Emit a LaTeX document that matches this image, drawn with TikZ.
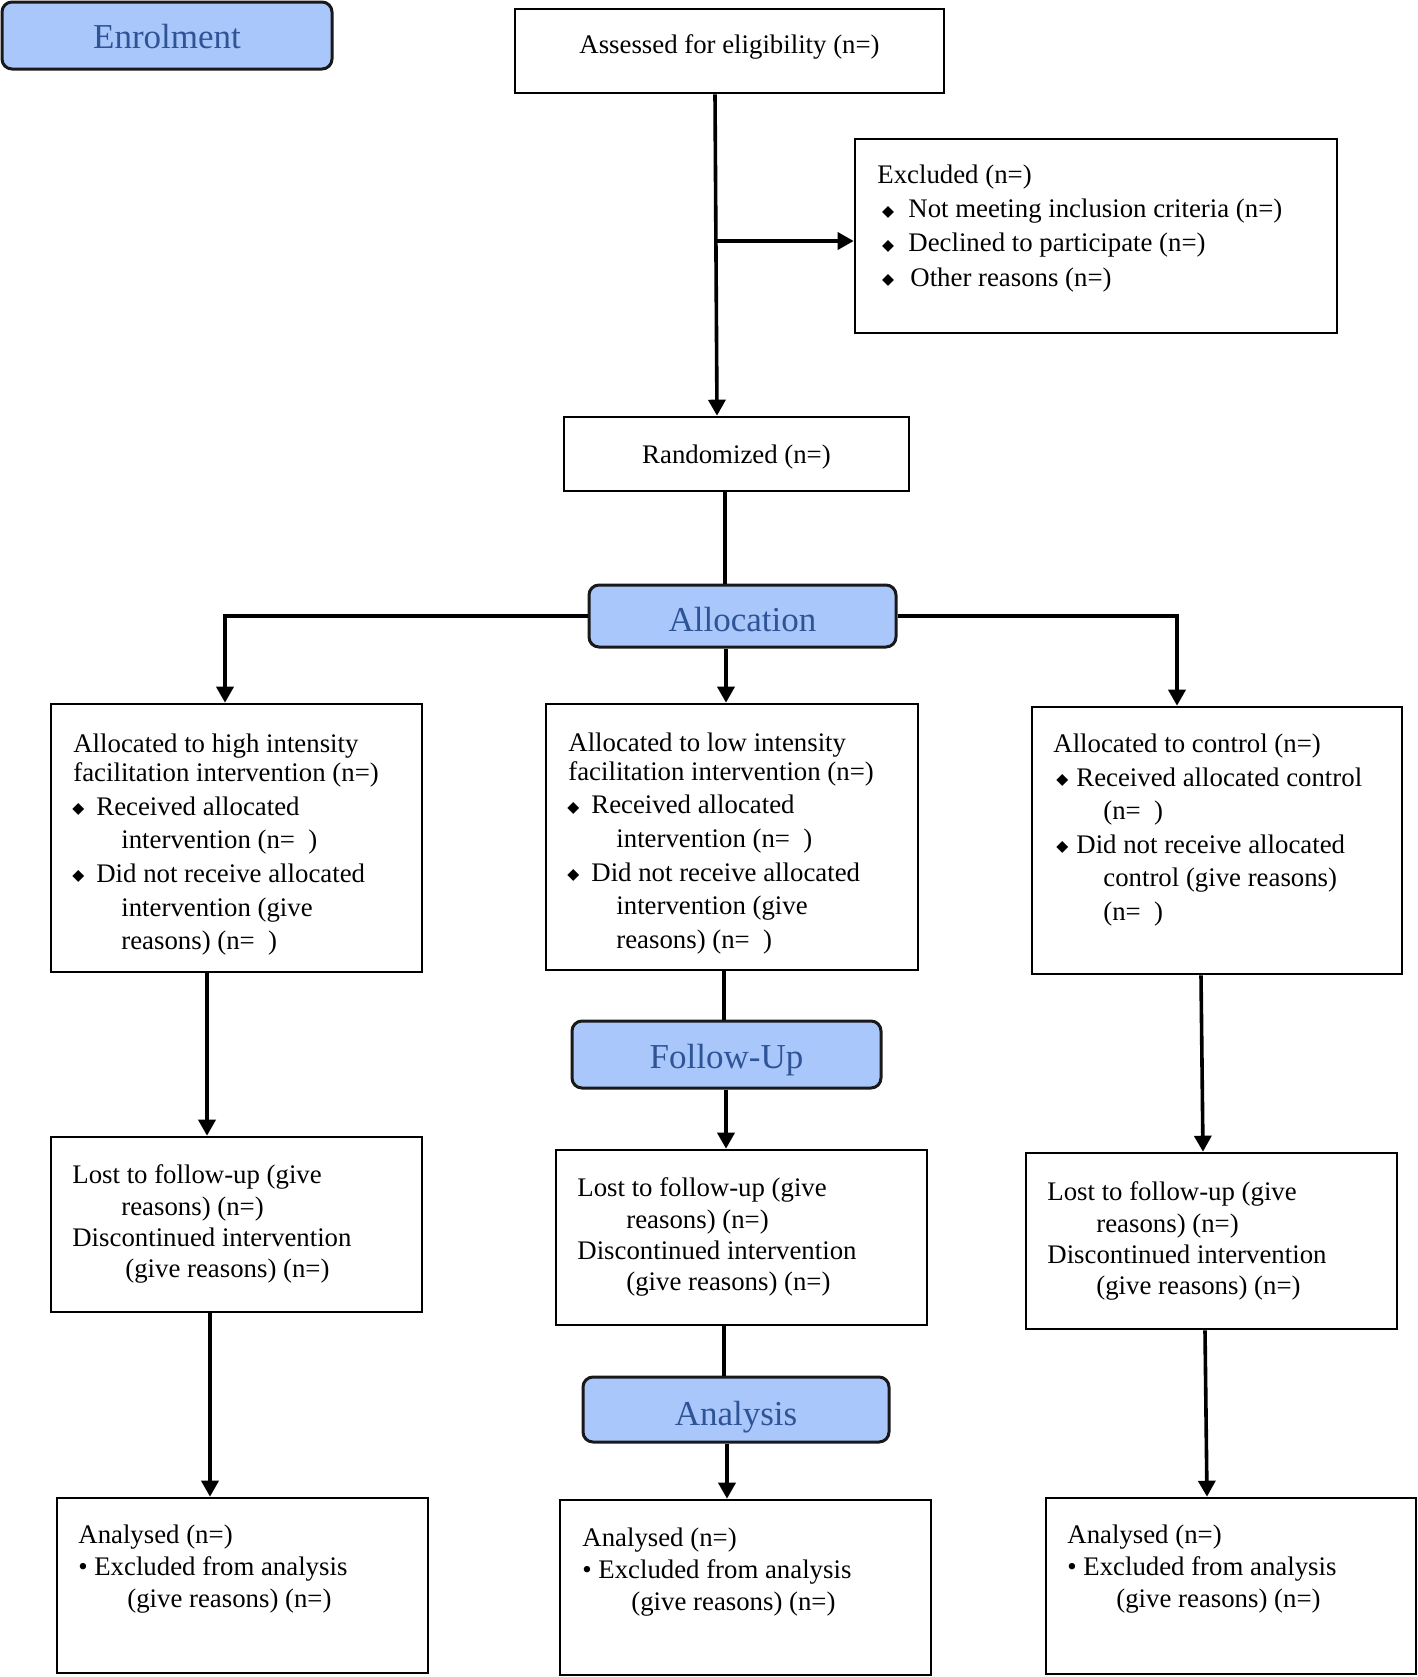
\documentclass[tikz,border=0pt]{standalone}
\usepackage{fontspec}
\setmainfont{Liberation Serif}
\newfontfamily\symf{DejaVu Sans}
\usetikzlibrary{fit,arrows.meta}
\definecolor{hdfill}{RGB}{169,199,250}
\definecolor{hdtext}{RGB}{47,84,150}
\newcommand{\dia}[2]{\makebox[#2][l]{\hspace*{#1}\raisebox{0.8pt}{\symf\fontsize{7.8pt}{7.8pt}\selectfont ◆}}}
\newcommand{\ind}[1]{\hspace*{#1}}
\tikzset{
  box/.style={draw, line width=1.3pt, inner sep=0pt},
  hd/.style={draw=black!90, line width=1.5pt, fill=hdfill, rounded corners=5pt, inner sep=0pt},
  hdt/.style={inner sep=0pt, anchor=base, text=hdtext, font=\fontsize{17.5pt}{20pt}\selectfont},
  txt/.style={inner sep=0pt, anchor=north west, align=left, font=\fontsize{13.4pt}{16.4pt}\selectfont},
  ctxt/.style={inner sep=0pt, anchor=base, font=\fontsize{13.4pt}{16.4pt}\selectfont},
  arr/.style={line width=1.8pt, -{Triangle[length=8pt,width=8.5pt]}},
  ln/.style={line width=1.8pt},
}
\begin{document}
\begin{tikzpicture}[x=0.5pt,y=-0.5pt]
\useasboundingbox (0,0) rectangle (1418,1677);
% headings
\node[hd, fit={(2,2) (332,69)}] (enro) {};
\node[hdt] (enroT) at (167,48) {Enrolment};
\node[hd, fit={(589,585) (896,647)}] (alloc) {};
\node[hdt] (allocT) at (742.5,631.5) {Allocation};
\node[hd, fit={(572,1021) (881,1088)}] (fu) {};
\node[hdt] (fuT) at (726.5,1068) {Follow-Up};
\node[hd, fit={(583,1377) (889,1442)}] (an) {};
\node[hdt] (anT) at (736,1425) {Analysis};
% boxes
\node[box, fit={(515,9) (944,93)}] (asse) {};
\node[ctxt] (asseT) at (729.5,53.5) {Assessed for eligibility (n=)};
\node[box, fit={(855,139) (1337,333)}] (excl) {};
\node[txt, font=\fontsize{13.4pt}{17.1pt}\selectfont] (exclT) at (877,164.5) {Excluded (n=)\\
\dia{2.3pt}{15.5pt}Not meeting inclusion criteria (n=)\\
\dia{2.3pt}{15.5pt}Declined to participate (n=)\\
\dia{2.3pt}{16.5pt}Other reasons (n=)};
\node[box, fit={(564,417) (909,491)}] (rand) {};
\node[ctxt] (randT) at (736.5,463.5) {Randomized (n=)};

\node[box, fit={(51,704) (422,972)}] (b1) {};
\node[txt, font=\fontsize{13.4pt}{16.8pt}\selectfont] (b1T) at (73,733.5) {Allocated to high intensity\\[-2.2pt]
facilitation intervention (n=)\\
\dia{-0.5pt}{11.5pt}Received allocated\\
\ind{24pt}intervention (n=\ \ )\\
\dia{-0.5pt}{11.5pt}Did not receive allocated\\
\ind{24pt}intervention (give\\
\ind{24pt}reasons) (n=\ \ )};
\node[box, fit={(546,704) (918,970)}] (b2) {};
\node[txt, font=\fontsize{13.4pt}{16.8pt}\selectfont] (b2T) at (568,732) {Allocated to low intensity\\[-2.2pt]
facilitation intervention (n=)\\
\dia{-0.5pt}{11.5pt}Received allocated\\
\ind{24pt}intervention (n=\ \ )\\
\dia{-0.5pt}{11.5pt}Did not receive allocated\\
\ind{24pt}intervention (give\\
\ind{24pt}reasons) (n=\ \ )};
\node[box, fit={(1032,707) (1402,974)}] (b3) {};
\node[txt, font=\fontsize{13.4pt}{16.8pt}\selectfont] (b3T) at (1053,733.5) {Allocated to control (n=)\\
\dia{1.5pt}{11.5pt}Received allocated control\\
\ind{25pt}(n=\ \ )\\
\dia{1.5pt}{11.5pt}Did not receive allocated\\
\ind{25pt}control (give reasons)\\
\ind{25pt}(n=\ \ )};

\node[box, fit={(51,1137) (422,1312)}] (b4) {};
\node[txt, font=\fontsize{13.4pt}{15.7pt}\selectfont] (b4T) at (72,1164.5) {Lost to follow-up (give\\
\ind{24.5pt}reasons) (n=)\\
Discontinued intervention\\
\ind{26.5pt}(give reasons) (n=)};
\node[box, fit={(556,1150) (927,1325)}] (b5) {};
\node[txt, font=\fontsize{13.4pt}{15.7pt}\selectfont] (b5T) at (577,1177.5) {Lost to follow-up (give\\
\ind{24.5pt}reasons) (n=)\\
Discontinued intervention\\
\ind{24.5pt}(give reasons) (n=)};
\node[box, fit={(1026,1153) (1397,1329)}] (b6) {};
\node[txt, font=\fontsize{13.4pt}{15.7pt}\selectfont] (b6T) at (1047,1181.5) {Lost to follow-up (give\\
\ind{24.5pt}reasons) (n=)\\
Discontinued intervention\\
\ind{24.5pt}(give reasons) (n=)};

\node[box, fit={(57,1498) (428,1673)}] (b7) {};
\node[txt, font=\fontsize{13.4pt}{16pt}\selectfont] (b7T) at (78,1524.5) {Analysed (n=)\\
\makebox[8pt][l]{•}Excluded from analysis\\
\ind{24.5pt}(give reasons) (n=)};
\node[box, fit={(560,1500) (931,1675)}] (b8) {};
\node[txt, font=\fontsize{13.4pt}{16pt}\selectfont] (b8T) at (582,1527) {Analysed (n=)\\
\makebox[8pt][l]{•}Excluded from analysis\\
\ind{24.5pt}(give reasons) (n=)};
\node[box, fit={(1046,1498) (1416,1674)}] (b9) {};
\node[txt, font=\fontsize{13.4pt}{16pt}\selectfont] (b9T) at (1067,1524.5) {Analysed (n=)\\
\makebox[8pt][l]{•}Excluded from analysis\\
\ind{24.5pt}(give reasons) (n=)};

% connectors
\coordinate (j1) at (715,241);
\draw[arr] ([shift={(-14.5,0)}]asse.south) -- ([shift={(-19.5,0)}]rand.north);
\draw[arr] (j1) -- (excl.west |- j1);
\draw[ln] ([shift={(-11.5,0)}]rand.south) -- ([shift={(-17.5,0)}]alloc.north);
\draw[arr] (alloc.west) -| ([shift={(-11.5,0)}]b1.north);
\draw[arr] (alloc.east) -| ([shift={(-40,0)}]b3.north);
\draw[arr] ([shift={(-16.5,0)}]alloc.south) -- ([shift={(-6,0)}]b2.north);
\draw[arr] ([shift={(-29.5,0)}]b1.south) -- ([shift={(-29.5,0)}]b4.north);
\draw[arr] ([shift={(-26.5,0)}]b4.south) -- ([shift={(-32.5,0)}]b7.north);
\draw[ln] ([shift={(-8,0)}]b2.south) -- ([shift={(-2.5,0)}]fu.north);
\draw[arr] ([shift={(-0.5,0)}]fu.south) -- ([shift={(-15.5,0)}]b5.north);
\draw[ln] ([shift={(-17.5,0)}]b5.south) -- ([shift={(-12,0)}]an.north);
\draw[arr] ([shift={(-9,0)}]an.south) -- ([shift={(-18.5,0)}]b8.north);
\draw[arr] ([shift={(-16,0)}]b3.south) -- ([shift={(-8.5,0)}]b6.north);
\draw[arr] ([shift={(-6.5,0)}]b6.south) -- ([shift={(-24,0)}]b9.north);
\end{tikzpicture}
\end{document}
